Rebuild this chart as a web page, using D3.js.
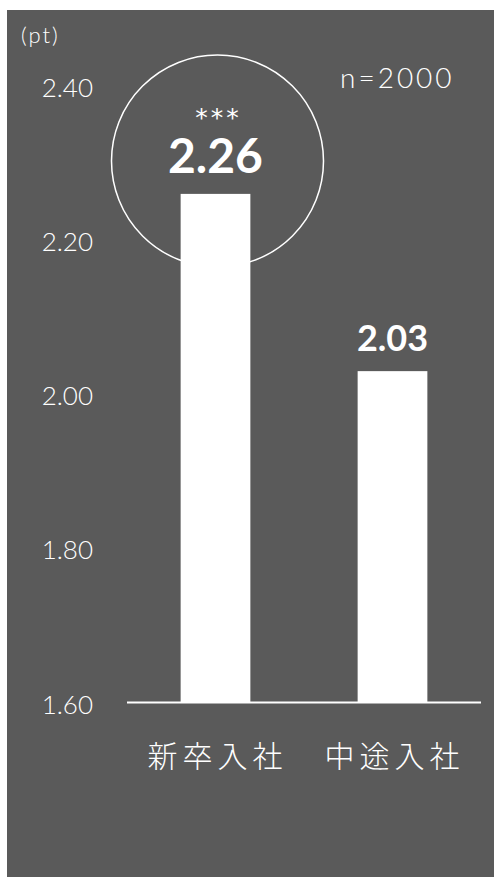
<!DOCTYPE html>
<html>
  <head>
    <meta charset="utf-8">
    <script src="https://d3js.org/d3.v7.min.js"></script>
    <style>
      body { margin: 0; background: #ffffff; }
      svg text { fill: #ffffff; font-family: Lato, "Noto Sans", sans-serif; }
    </style>
  </head>
<body>
  <script type="text/javascript">
    // chart values
    var categories = ["新卒入社", "中途入社"];
    var values = [2.26, 2.03];
    var valueLabels = ["2.26", "2.03"];
    var yTicks = [1.60, 1.80, 2.00, 2.20, 2.40];
    var sampleNote = "n=2000";
    var unitNote = "(pt)";
    var significance = "***";

    var width = 494,
        height = 877;

    var svg = d3.select("body")
      .append("svg")
        .attr("width", width)
        .attr("height", height);

    // gray panel
    svg.append("rect")
      .attr("x", 7)
      .attr("y", 10)
      .attr("width", width - 7)
      .attr("height", height - 10)
      .style("fill", "#5a5a5a");

    var x = d3.scaleBand()
      .domain(categories)
      .range([127, 481])
      .paddingInner(0.606)
      .paddingOuter(0.303);

    var y = d3.scaleLinear()
      .domain([1.6, 2.4])
      .range([702.5, 86]);

    // y tick labels (no axis line)
    svg.selectAll("text.tick")
      .data(yTicks)
      .enter()
      .append("text")
        .attr("class", "tick")
        .attr("x", 93)
        .attr("y", function (d) { return y(d) + 11; })
        .attr("text-anchor", "end")
        .style("font-size", "26px")
        .style("font-weight", 300)
        .text(function (d) { return d.toFixed(2); });

    svg.append("text")
      .attr("x", 21)
      .attr("y", 43)
      .style("font-size", "22px")
      .style("font-weight", 300)
      .style("letter-spacing", "2px")
      .text(unitNote);

    svg.append("text")
      .attr("x", 340)
      .attr("y", 88)
      .style("font-size", "28px")
      .style("font-weight", 300)
      .style("letter-spacing", "3px")
      .text(sampleNote);

    // bars
    svg.selectAll("rect.bar")
      .data(values)
      .enter()
      .append("rect")
        .attr("class", "bar")
        .attr("x", function (d, i) { return x(categories[i]); })
        .attr("y", function (d) { return y(d); })
        .attr("width", x.bandwidth())
        .attr("height", function (d) { return y(1.6) - y(d); })
        .style("fill", "#ffffff");

    // baseline
    svg.append("line")
      .attr("x1", 127)
      .attr("x2", 481)
      .attr("y1", y(1.6))
      .attr("y2", y(1.6))
      .style("stroke", "#ffffff")
      .style("stroke-width", 2);

    // highlight circle round the first bar's label
    var cx = x(categories[0]) + x.bandwidth() / 2;
    svg.append("circle")
      .attr("cx", cx + 2)
      .attr("cy", 161)
      .attr("r", 106)
      .style("fill", "none")
      .style("stroke", "#ffffff")
      .style("stroke-width", 1.5);

    svg.append("text")
      .attr("x", cx + 3)
      .attr("y", 126)
      .attr("text-anchor", "middle")
      .style("font-family", "'DejaVu Sans', sans-serif")
      .style("font-size", "25px")
      .style("font-weight", 400)
      .style("letter-spacing", "3px")
      .text(significance);

    // value labels
    var labelSize = [48, 36];
    var labelGap = [21, 20];
    svg.selectAll("text.value")
      .data(values)
      .enter()
      .append("text")
        .attr("class", "value")
        .attr("x", function (d, i) { return x(categories[i]) + x.bandwidth() / 2; })
        .attr("y", function (d, i) { return y(d) - labelGap[i]; })
        .attr("text-anchor", "middle")
        .style("font-size", function (d, i) { return labelSize[i] + "px"; })
        .style("font-weight", 700)
        .text(function (d, i) { return valueLabels[i]; });

    // category labels
    svg.selectAll("text.cat")
      .data(categories)
      .enter()
      .append("text")
        .attr("class", "cat")
        .attr("x", function (d) { return x(d) + x.bandwidth() / 2 + 2; })
        .attr("y", 767)
        .attr("text-anchor", "middle")
        .style("font-family", "'Noto Sans CJK JP', sans-serif")
        .style("font-size", "30px")
        .style("font-weight", 300)
        .style("letter-spacing", "5px")
        .text(function (d) { return d; });
  </script>
</body>
</html>
